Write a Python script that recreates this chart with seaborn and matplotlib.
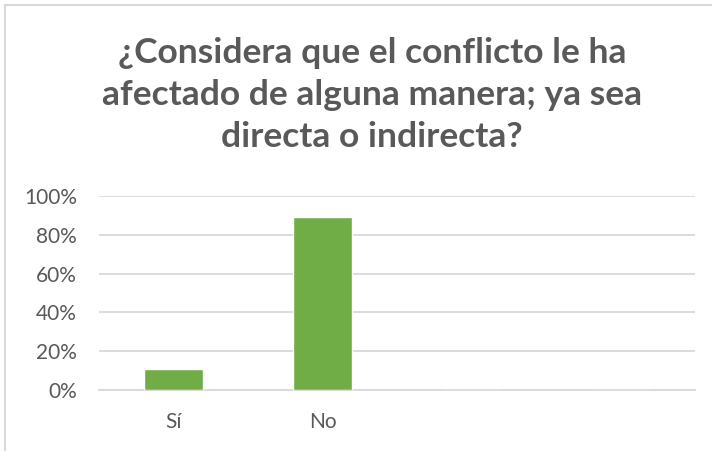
import matplotlib
matplotlib.use("Agg")
import matplotlib.pyplot as plt
import seaborn as sns
import pandas as pd
from matplotlib.ticker import PercentFormatter, FixedLocator
from matplotlib.patches import Rectangle

categories = ["Sí", "No", " ", "  "]
values = [0.11, 0.89, 0.0, 0.0]
yticks = [0, 0.2, 0.4, 0.6, 0.8, 1.0]
title = "¿Considera que el conflicto le ha\nafectado de alguna manera; ya sea\ndirecta o indirecta?"

sns.set_theme(style="white")
plt.rcParams["font.family"] = ["Lato", "DejaVu Sans"]

df = pd.DataFrame({"cat": categories, "val": values})

fig = plt.figure(figsize=(7.12, 4.51), dpi=100)
ax = fig.add_axes([99/712, 1 - 390/451, 596/712, (390-196)/451])

sns.barplot(data=df, x="cat", y="val", color="#70AD47", saturation=1,
            width=0.4, ax=ax, zorder=3)

ax.set_ylim(0, 1.0)
ax.yaxis.set_major_locator(FixedLocator(yticks))
ax.yaxis.set_major_formatter(PercentFormatter(1.0, decimals=0))
ax.grid(axis="y", color="#D9D9D9", linewidth=1.3, zorder=0)
ax.set_axisbelow(True)
for s in ["top", "right", "left"]:
    ax.spines[s].set_visible(False)
ax.spines["bottom"].set_color("#D9D9D9")
ax.spines["bottom"].set_linewidth(1.3)
ax.set_xlabel("")
ax.set_ylabel("")
ax.tick_params(axis="both", length=0, labelsize=15, labelcolor="#595959")
ax.tick_params(axis="x", pad=16)
ax.tick_params(axis="y", pad=16)
ax.set_xlim(-0.5, 3.5)

fig.text(372/712, 1 - 95/451, title, ha="center", va="center",
         fontsize=25.5, fontweight="bold", color="#595959", linespacing=1.38)

fig.patches.append(Rectangle((5/712, -0.1), 1.2, 1 - 5/451 + 0.1, transform=fig.transFigure,
                             fill=False, edgecolor="#D9D9D9", linewidth=1.5))

fig.savefig("out.png", dpi=100)
